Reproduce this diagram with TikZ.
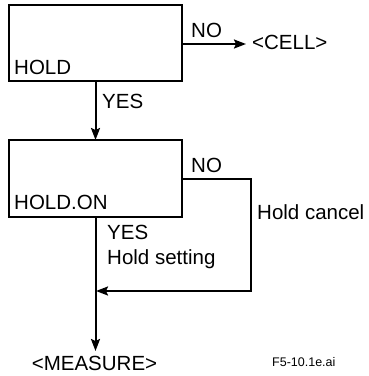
\documentclass[tikz,border=0pt]{standalone}
\usepackage{fontspec}
\setmainfont{Liberation Sans}
\usetikzlibrary{arrows.meta}
\tikzset{
  box/.style={draw, line width=2pt, rectangle, minimum width=173pt, minimum height=#1, inner sep=0pt, outer sep=0pt},
  lbl/.style={anchor=base west, inner sep=0pt, font=\fontsize{20.5}{24}\selectfont},
  small/.style={anchor=base west, inner sep=0pt, font=\fontsize{12.5}{15}\selectfont},
  flow/.style={line width=2pt, -{Stealth[length=12pt, width=9pt, inset=2pt]}},
  plain/.style={line width=2pt}
}
\begin{document}
\begin{tikzpicture}[x=1pt, y=-1pt, line join=miter]
\useasboundingbox (0,0) rectangle (369,376);
% boxes
\node[box=76pt] (b1) at (95.5,43) {};
\node[box=77pt] (b2) at (95.5,178.5) {};
% box texts
\node[lbl] (hold) at (14,74) {HOLD};
\node[lbl] (holdon) at (14,209) {HOLD.ON};
% outer texts
\node[lbl] (no1) at (191,37) {NO};
\node[lbl] (cell) at (252,49) {<CELL>};
\node[lbl] (yes1) at (102,108) {YES};
\node[lbl] (no2) at (191,172) {NO};
\node[lbl] (cancel) at (257,219) {Hold cancel};
\node[lbl] (yes2) at (107,239) {YES};
\node[lbl] (setting) at (107,264) {Hold setting};
\node[lbl, anchor=base] (measure) at (94.5,370) {<MEASURE>};
\node[small] (fig) at (272,366) {F5-10.1e.ai};
% connector end points
\coordinate (cellin) at (246,44);
\coordinate (corner) at (251,291);
\coordinate (join) at (96,291);
\coordinate (mtop) at (95.5,351);
% connectors
\draw[flow] (b1.east |- cellin) -- (cellin);
\draw[flow] (b1.south) -- (b2.north);
\draw[flow] (b2.east |- 0,179) -| (corner) -- (join);
\draw[flow] (b2.south) -- (mtop);
\end{tikzpicture}
\end{document}
